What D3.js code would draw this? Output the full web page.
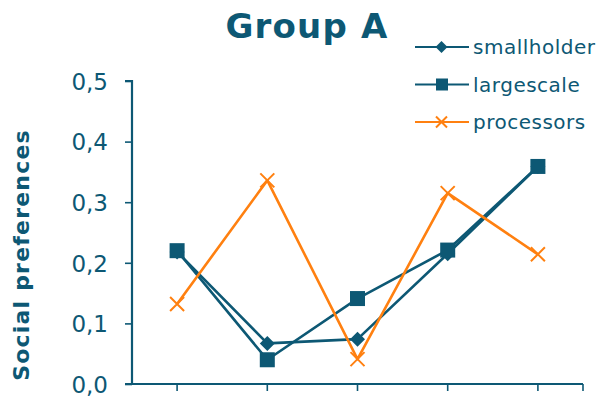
<!DOCTYPE html>
<html>
<head>
<meta charset="utf-8">
<script src="https://cdn.jsdelivr.net/npm/d3@7"></script>
<style>
  html, body { margin: 0; padding: 0; background: #fff; }
  svg { display: block; font-family: "DejaVu Sans", Verdana, sans-serif; }
</style>
</head>
<body>
<svg id="chart" width="600" height="397"></svg>
<script>
// Five groups along the x axis, one value per series
const categories = ["1", "2", "3", "4", "5"];
const smallholder = [0.218, 0.067, 0.074, 0.215, 0.359];
const largescale  = [0.220, 0.040, 0.141, 0.221, 0.359];
const processors  = [0.132, 0.336, 0.041, 0.315, 0.214];
const yTicks = [0, 0.1, 0.2, 0.3, 0.4, 0.5];

const teal = "#0d5874";
const orange = "#ff8010";

const svg = d3.select("#chart");
const m = { left: 132, right: 17, top: 81, bottom: 13 };
const W = 600, H = 397;

const x = d3.scaleBand().domain(categories).range([m.left, W - m.right]);
const y = d3.scaleLinear().domain([0, 0.5]).range([384, m.top]);
const cx = c => x(c) + x.bandwidth() / 2;

// Title
svg.append("text")
  .attr("x", 307).attr("y", 38)
  .attr("text-anchor", "middle")
  .attr("font-size", 34).attr("font-weight", "bold")
  .attr("letter-spacing", 1.2)
  .attr("fill", teal)
  .text("Group A");

// Y axis
const yAxis = d3.axisLeft(y).tickValues(yTicks).tickSize(7).tickPadding(17)
  .tickFormat(d => d3.format(".1f")(d).replace(".", ","));
const gy = svg.append("g").attr("transform", `translate(${m.left},0)`).call(yAxis);
gy.select(".domain").attr("stroke", teal).attr("stroke-width", 2.2)
  .attr("d", `M-7,${y(0.5)}H0V${y(0) + 1}`);
gy.selectAll(".tick line").attr("stroke", teal).attr("stroke-width", 1.6);
gy.selectAll(".tick text").attr("fill", teal).attr("font-size", 23)
  .attr("dy", "0.36em")
  .attr("font-family", "DejaVu Sans, Verdana, sans-serif");

// X axis: ticks under each category plus at the right end
const gx = svg.append("g");
gx.append("line")
  .attr("x1", m.left - 7).attr("x2", W - m.right)
  .attr("y1", y(0)).attr("y2", y(0))
  .attr("stroke", teal).attr("stroke-width", 2.2);
const xTickPos = categories.map(cx).concat([W - m.right]);
gx.selectAll("line.xt").data(xTickPos).join("line")
  .attr("class", "xt")
  .attr("x1", d => d).attr("x2", d => d)
  .attr("y1", y(0)).attr("y2", y(0) + 7)
  .attr("stroke", teal).attr("stroke-width", 1.6);

// Y axis title
svg.append("text")
  .attr("transform", `translate(29,255) rotate(-90)`)
  .attr("text-anchor", "middle")
  .attr("font-size", 22).attr("font-weight", "bold")
  .attr("letter-spacing", 1.2)
  .attr("fill", teal)
  .text("Social preferences");

const line = d3.line().x((d, i) => cx(categories[i])).y(d => y(d));

function drawMarker(g, type, color, px, py) {
  if (type === "diamond") {
    g.append("path").attr("d", `M${px},${py - 7.5}L${px + 7.5},${py}L${px},${py + 7.5}L${px - 7.5},${py}Z`)
      .attr("fill", color);
  } else if (type === "square") {
    g.append("rect").attr("x", px - 7.5).attr("y", py - 7.5).attr("width", 15).attr("height", 15)
      .attr("fill", color);
  } else {
    g.append("path").attr("d", `M${px - 7},${py - 7}L${px + 7},${py + 7}M${px - 7},${py + 7}L${px + 7},${py - 7}`)
      .attr("stroke", color).attr("stroke-width", 2).attr("fill", "none");
  }
}

const series = [
  { name: "smallholder", values: smallholder, color: teal, marker: "diamond" },
  { name: "largescale", values: largescale, color: teal, marker: "square" },
  { name: "processors", values: processors, color: orange, marker: "x" }
];

const plot = svg.append("g");
series.forEach(s => {
  plot.append("path").datum(s.values)
    .attr("d", line).attr("fill", "none")
    .attr("stroke", s.color).attr("stroke-width", 2.6)
    .attr("stroke-linejoin", "round");
  s.values.forEach((v, i) => drawMarker(plot, s.marker, s.color, cx(categories[i]), y(v)));
});

// Legend
const legend = svg.append("g");
series.forEach((s, i) => {
  const ly = 47 + i * 37.5;
  legend.append("line").attr("x1", 415).attr("x2", 469).attr("y1", ly).attr("y2", ly)
    .attr("stroke", s.color).attr("stroke-width", 2.2);
  const sub = legend.append("g");
  if (s.marker === "x") {
    sub.append("path").attr("d", `M${436},${ly - 5.5}L${447},${ly + 5.5}M${436},${ly + 5.5}L${447},${ly - 5.5}`)
      .attr("stroke", s.color).attr("stroke-width", 2);
  } else if (s.marker === "square") {
    sub.append("rect").attr("x", 436).attr("y", ly - 6).attr("width", 12).attr("height", 12).attr("fill", s.color);
  } else {
    sub.append("path").attr("d", `M441.5,${ly - 6}L447.5,${ly}L441.5,${ly + 6}L435.5,${ly}Z`).attr("fill", s.color);
  }
  legend.append("text").attr("x", 473).attr("y", ly + 7)
    .attr("font-size", 20).attr("letter-spacing", 0.5).attr("fill", teal)
    .text(s.name);
});
</script>
</body>
</html>
